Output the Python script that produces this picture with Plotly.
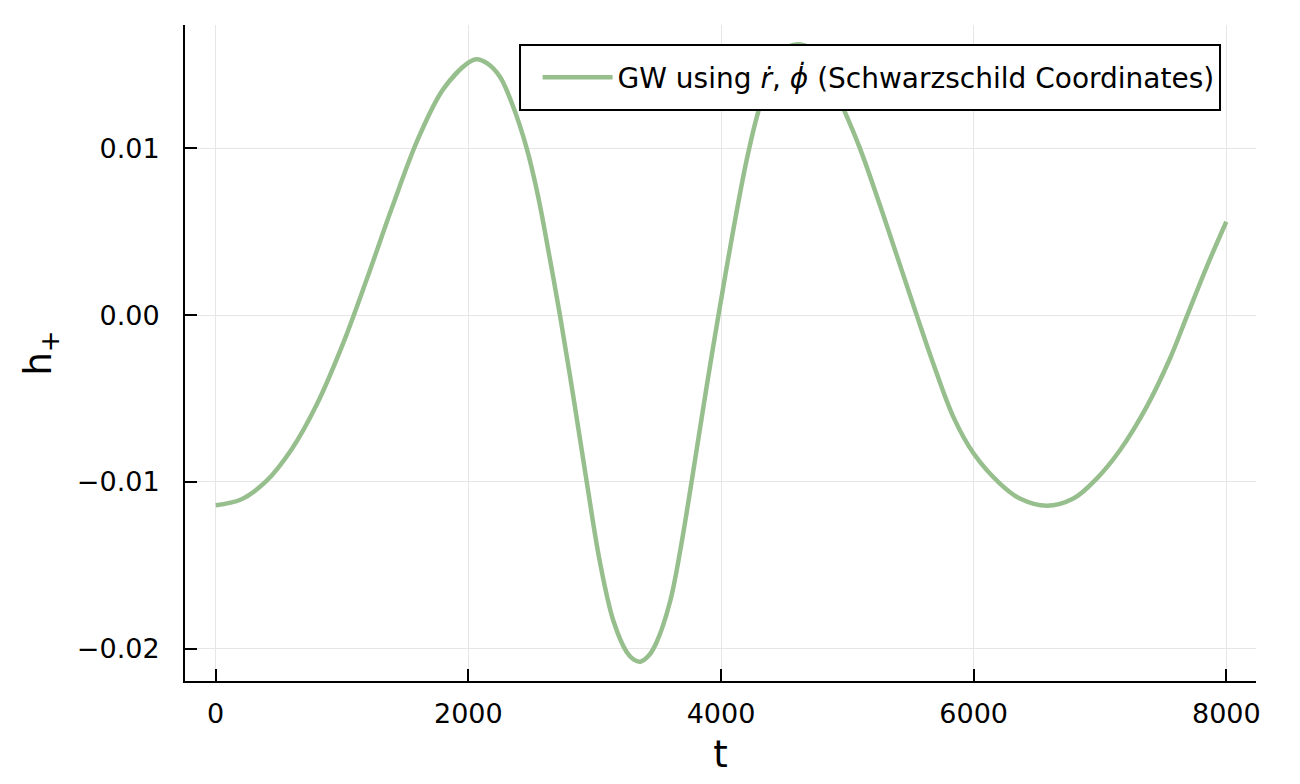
import plotly.graph_objects as go

# Data
t_vals = [0, 200, 400, 600, 800, 1000, 1200, 1400, 1600, 1800, 2000, 2066,
          2150, 2250, 2350, 2462, 2550, 2640, 2725, 2831, 2937, 3042, 3148,
          3253, 3310, 3362, 3430, 3491, 3596, 3680, 3767, 3886, 3980, 4097,
          4203, 4295, 4400, 4500, 4612, 4720, 4850, 4968, 5100, 5258, 5417,
          5549, 5680, 5839, 6000, 6208, 6366, 6578, 6789, 6974, 7158, 7369,
          7554, 7686, 7845, 8000]
h_plus = [-0.01140, -0.01106, -0.00996, -0.00806, -0.00536, -0.00186, 0.00224,
          0.00654, 0.01054, 0.01354, 0.01514, 0.01535,
          0.01510, 0.01430, 0.01260, 0.01000, 0.00720, 0.00360, 0.0, -0.00488,
          -0.01000, -0.01483, -0.01833,
          -0.02020, -0.02066, -0.02078, -0.02040, -0.01960, -0.01720, -0.01400,
          -0.01000, -0.00430, 0.0, 0.00510,
          0.00930, 0.01220, 0.01460, 0.01590, 0.01625, 0.01590, 0.01430, 0.01240,
          0.01000, 0.00660, 0.00300,
          0.0, -0.00290, -0.00610, -0.00830, -0.01010, -0.01100, -0.01143,
          -0.01100, -0.00980, -0.00810, -0.00550,
          -0.00260, -0.00010, 0.00290, 0.00560]

x_tick_vals = [0, 2000, 4000, 6000, 8000]
x_tick_text = ["0", "2000", "4000", "6000", "8000"]
y_tick_vals = [-0.02, -0.01, 0.0, 0.01]
y_tick_text = ["\u22120.02", "\u22120.01", "0.00", "0.01"]

series_name = "GW using <i>ṙ</i>, <i>ϕ̇</i> (Schwarzschild Coordinates)"

fig = go.Figure()
fig.add_trace(go.Scatter(
    x=t_vals, y=h_plus, mode="lines", name=series_name,
    line=dict(color="#97bf8d", width=4.5, shape="spline", smoothing=1.0),
))

font_family = "DejaVu Sans"
fig.update_layout(
    width=1284, height=768,
    margin=dict(l=177, r=36, t=17, b=95),
    paper_bgcolor="white", plot_bgcolor="white",
    font=dict(family=font_family, color="black", size=27),
    showlegend=True,
    legend=dict(
        x=0.966, y=0.92, xanchor="right", yanchor="middle",
        borderwidth=0, bgcolor="rgba(0,0,0,0)",
        font=dict(size=28, family=font_family),
        itemwidth=70,
    ),
    shapes=[dict(
        type="rect", xref="paper", yref="paper",
        x0=0.3128, x1=0.9664, y0=0.8704, y1=0.9695,
        line=dict(color="black", width=2), fillcolor="white", layer="above",
    )],
)
fig.update_xaxes(
    range=[-243, 8235], automargin=False,
    tickvals=x_tick_vals, ticktext=x_tick_text,
    ticks="inside", ticklen=12, tickwidth=1.5, tickcolor="black",
    showline=True, linecolor="black", linewidth=2, mirror=False,
    showgrid=True, gridcolor="#e6e6e6", gridwidth=1,
    zeroline=False,
    tickfont=dict(size=27),
    ticklabelstandoff=8,
    title=dict(text="t", font=dict(size=37), standoff=17),
)
fig.update_yaxes(
    range=[-0.02194, 0.01740], automargin=False,
    tickvals=y_tick_vals, ticktext=y_tick_text,
    ticks="inside", ticklen=12, tickwidth=1.5, tickcolor="black",
    showline=True, linecolor="black", linewidth=2, mirror=False,
    showgrid=True, gridcolor="#e6e6e6", gridwidth=1,
    zeroline=False,
    tickfont=dict(size=27),
    ticklabelstandoff=18,
    title=dict(text="h<sub>+</sub>", font=dict(size=37), standoff=14),
)

fig.write_html("out.html")
